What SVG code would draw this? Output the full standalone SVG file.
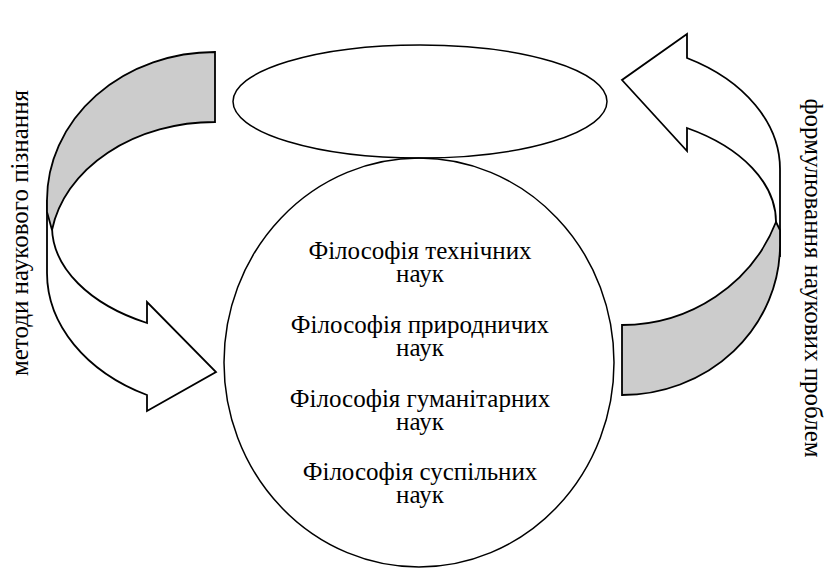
<svg xmlns="http://www.w3.org/2000/svg" width="834" height="569" viewBox="0 0 834 569">
<rect width="834" height="569" fill="#fff"/>
<g id="connectors" stroke="#000" stroke-width="1.8" stroke-linejoin="miter">
<g id="arrow-left">
<path fill="#fff" d="M47,200 L47,273 A183,137 0 0 0 147,395 L147,411 L216,372 L147,302 L147,323 A178,109 0 0 1 52,228 Z"/>
<path fill="#cccccc" d="M215,52 L215,122 A165,128 0 0 0 52,230 L47,212 L47,200 A168,148 0 0 1 215,52 Z"/>
</g>
<g id="arrow-right">
<path fill="#fff" d="M780,257 L780,170 A180,127 0 0 0 687,58 L687,34 L622,80 L687,151 L687,128 A180,109 0 0 1 776,222 Z"/>
<path fill="#cccccc" d="M622,325 L622,395 A158,150 0 0 0 780,245 L780,230 L776,222 A165,160 0 0 1 622,325 Z"/>
</g>
</g>
<g id="top-node">
<ellipse fill="none" stroke="#000" stroke-width="1.5" cx="420" cy="101.5" rx="187" ry="56.5"/>
</g>
<g id="main-node">
<ellipse fill="none" stroke="#000" stroke-width="1.5" cx="419" cy="362.5" rx="195" ry="204.5"/>
<text style="font-family:'Liberation Serif',serif;font-size:25px;text-anchor:middle" x="420" y="259">Філософія технічних</text>
<text style="font-family:'Liberation Serif',serif;font-size:25px;text-anchor:middle" x="420" y="282">наук</text>
<text style="font-family:'Liberation Serif',serif;font-size:25px;text-anchor:middle" x="420" y="333">Філософія природничих</text>
<text style="font-family:'Liberation Serif',serif;font-size:25px;text-anchor:middle" x="420" y="356">наук</text>
<text style="font-family:'Liberation Serif',serif;font-size:25px;text-anchor:middle" x="420" y="407">Філософія гуманітарних</text>
<text style="font-family:'Liberation Serif',serif;font-size:25px;text-anchor:middle" x="420" y="430">наук</text>
<text style="font-family:'Liberation Serif',serif;font-size:25px;text-anchor:middle" x="420" y="480">Філософія суспільних</text>
<text style="font-family:'Liberation Serif',serif;font-size:25px;text-anchor:middle" x="420" y="503">наук</text>
</g>
<g id="label-left">
<text style="font-family:'Liberation Serif',serif;font-size:25px;text-anchor:middle" transform="translate(28,233) rotate(-90)">методи наукового пізнання</text>
</g>
<g id="label-right">
<text style="font-family:'Liberation Serif',serif;font-size:25px;text-anchor:middle" transform="translate(805,278) rotate(90)">формулювання наукових проблем</text>
</g>
</svg>
